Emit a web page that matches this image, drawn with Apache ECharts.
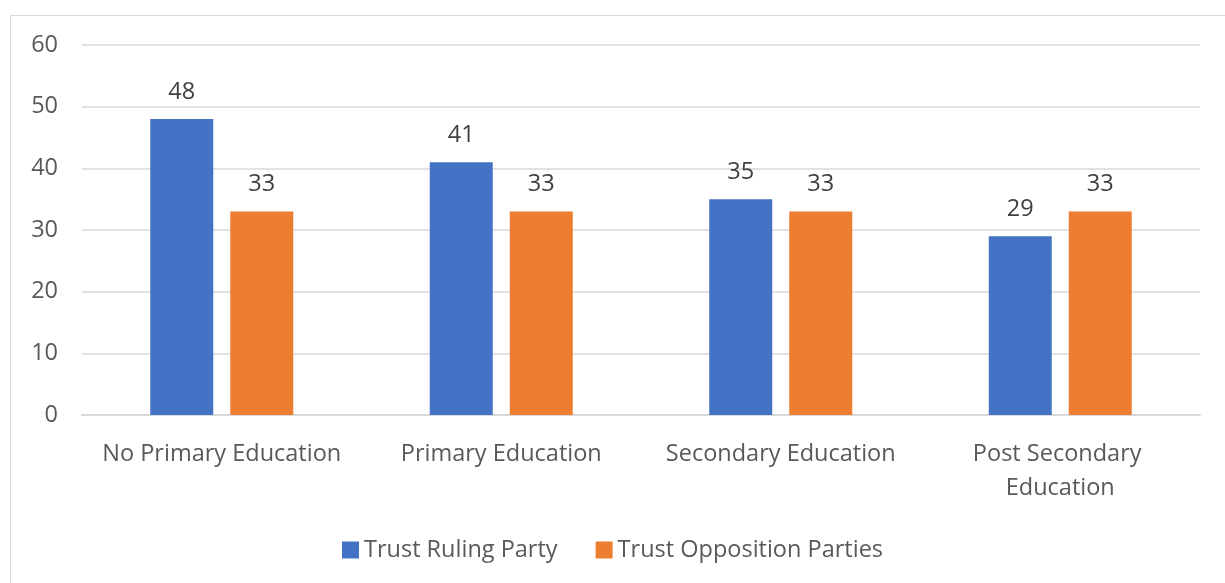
<!DOCTYPE html>
<html>
<head>
<meta charset="utf-8">
<script src="https://cdn.jsdelivr.net/npm/echarts@6/dist/echarts.min.js"></script>
<style>
  html, body { margin: 0; padding: 0; background: #fff; }
  #chart { width: 1225px; height: 583px; }
</style>
</head>
<body>
<div id="chart"></div>
<script>
// Trust in political parties by level of education
const categories = ['No Primary Education', 'Primary Education', 'Secondary Education', 'Post Secondary Education'];
const trustRuling = [48, 41, 35, 29];
const trustOpposition = [33, 33, 33, 33];
const seriesNames = ['Trust Ruling Party', 'Trust Opposition Parties'];

const FONT = '"Open Sans", Lato, sans-serif';
const FS = 23.5;
const chart = echarts.init(document.getElementById('chart'));

const barLabel = {
  show: true,
  position: 'top',
  distance: 15,
  color: '#404040',
  fontSize: FS,
  fontFamily: FONT
};

chart.setOption({
  animation: false,
  textStyle: { fontFamily: FONT },
  graphic: [{
    type: 'rect',
    shape: { x: 10.5, y: 15.5, width: 1400, height: 800 },
    style: { fill: 'none', stroke: '#d9d9d9', lineWidth: 1 },
    silent: true
  }],
  grid: { left: 82, right: 25, top: 45, bottom: 168, containLabel: false },
  legend: {
    bottom: 16,
    left: 'center',
    icon: 'rect',
    itemWidth: 17,
    itemHeight: 17,
    itemGap: 38,
    itemStyle: { borderWidth: 0 },
    textStyle: { color: '#595959', fontSize: FS, fontFamily: FONT },
    data: seriesNames
  },
  xAxis: {
    type: 'category',
    data: categories,
    axisLine: { lineStyle: { color: '#d9d9d9', width: 2 } },
    axisTick: { show: false },
    axisLabel: {
      color: '#595959',
      fontSize: FS,
      fontFamily: FONT,
      margin: 22,
      lineHeight: 34,
      width: 264,
      overflow: 'break',
      interval: 0
    }
  },
  yAxis: {
    type: 'value',
    min: 0,
    max: 60,
    interval: 10,
    axisLine: { show: false },
    axisTick: { show: false },
    splitLine: { lineStyle: { color: '#d9d9d9', width: 1.5 } },
    axisLabel: { color: '#595959', fontSize: FS, fontFamily: FONT, margin: 24 }
  },
  series: [
    {
      name: seriesNames[0],
      type: 'bar',
      data: trustRuling,
      barWidth: 63,
      barGap: '27%',
      itemStyle: { color: '#4472C4' },
      label: barLabel
    },
    {
      name: seriesNames[1],
      type: 'bar',
      data: trustOpposition,
      barWidth: 63,
      itemStyle: { color: '#ED7D31' },
      label: barLabel
    }
  ]
});
</script>
</body>
</html>
